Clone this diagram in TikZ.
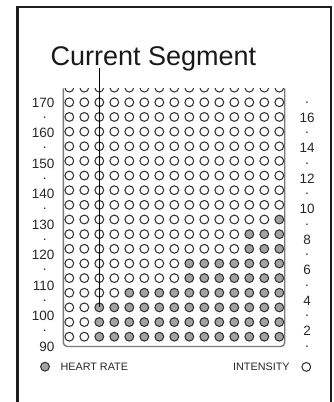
\documentclass[tikz,border=0pt]{standalone}
\usepackage{fontspec}
\setmainfont{Liberation Sans}
\definecolor{framecol}{HTML}{1E1E1E}
\definecolor{ringcol}{HTML}{333333}
\definecolor{hrgray}{HTML}{A3A3A3}
\definecolor{boxcol}{HTML}{7A7A7A}
\begin{document}
\begin{tikzpicture}[x=1pt,y=-1pt,
  seat/.style={circle, draw=ringcol, line width=1.05pt, minimum size=8.8pt, inner sep=0pt},
  hrseat/.style={seat, fill=hrgray},
  scalelab/.style={font=\fontsize{13.5}{15}\selectfont, inner sep=0pt, text=black!85},
  legendlab/.style={font=\fontsize{10.8}{12}\selectfont, inner sep=0pt, text=black!85},
  titlelab/.style={font=\fontsize{27}{30}\selectfont, inner sep=0pt, text=black!90}]
\useasboundingbox (0,0) rectangle (333,402);
\clip (0,0) rectangle (333,402);
% outer frame (open at the bottom)
\draw[framecol, line width=2.6pt] (17.3,430) |- (331,7) -- (331,430);
% title
\node[titlelab, anchor=base] (title) at (153.4,65.3) {Current Segment};
% partial top row
\begin{scope}
\clip (60,88.6) rectangle (290,100);
\foreach \c in {0,...,14} {
  \pgfmathsetmacro\cx{69.3+15*\c}
  \node[seat] (p-\c) at (\cx,87.65) {};
}
\end{scope}
% grid box
\draw[boxcol, line width=1.4pt, rounded corners=4pt] (63.3,88.3) -- (63.3,346.5) -- (284.7,346.5) -- (284.7,88.3);
% grid of circles
\foreach \r/\n in {0/0,1/0,2/0,3/0,4/0,5/0,6/0,7/0,8/1,9/3,10/3,11/7,12/7,13/11,14/13,15/13,16/13} {
  \foreach \c in {0,...,14} {
    \pgfmathsetmacro\cx{69.3+15*\c}
    \pgfmathsetmacro\cy{102.3+14.65*\r}
    \ifnum\c<\numexpr15-\n\relax
      \node[seat] (c-\r-\c) at (\cx,\cy) {};
    \else
      \node[hrseat] (c-\r-\c) at (\cx,\cy) {};
    \fi
  }
}
% current segment marker
\coordinate (segtop) at (99.3,68.3);
\draw[black, line width=1.3pt] (segtop) -- (c-14-2.center);
% left scale (heart rate)
\foreach \i/\t in {0/170,2/160,4/150,6/140,8/130,10/120,12/110,14/100,16/90} {
  \pgfmathsetmacro\ly{102.3+15.25*\i+4.8}
  \node[scalelab, anchor=base east] (hl-\i) at (54.5,\ly) {\t};
}
\foreach \i in {1,3,5,7,9,11,13,15} {
  \pgfmathsetmacro\ly{102.3+15.25*\i+0.9}
  \node[scalelab, anchor=base] (hl-\i) at (44.8,\ly) {.};
}
% right scale (intensity)
\foreach \i/\t in {1/16,3/14,5/12,7/10,9/8,11/6,13/4,15/2} {
  \pgfmathsetmacro\ly{102.3+15.25*\i+4.8}
  \node[scalelab, anchor=base] (il-\i) at (307.1,\ly) {\t};
}
\foreach \i in {0,2,4,6,8,10,12,14,16} {
  \pgfmathsetmacro\ly{102.3+15.25*\i+0.9}
  \node[scalelab, anchor=base] (il-\i) at (307.1,\ly) {.};
}
% legend
\node[hrseat] (hrkey) at (45,366.7) {};
\node[legendlab, anchor=west] (hrtext) at (60.4,366.7) {HEART RATE};
\node[legendlab, anchor=east] (intext) at (289.8,366.7) {INTENSITY};
\node[seat] (inkey) at (306.3,366.9) {};
\end{tikzpicture}
\end{document}
